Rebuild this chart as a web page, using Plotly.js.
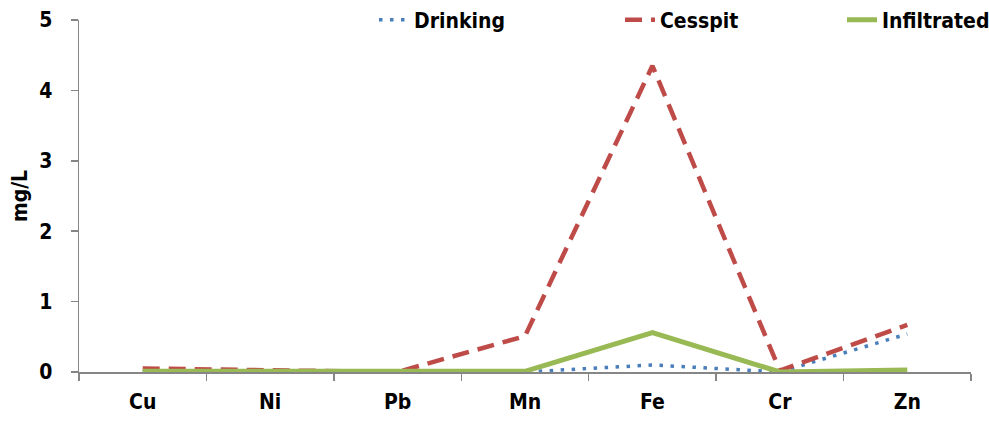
<!DOCTYPE html>
<html>
<head>
<meta charset="utf-8">
<script src="https://cdn.plot.ly/plotly-3.0.1.min.js"></script>
<style>
  html, body { margin: 0; padding: 0; background: #ffffff; }
  #chart { width: 989px; height: 424px; }
</style>
</head>
<body>
<div id="chart"></div>
<script>
// Metal concentrations (mg/L) by water type
const metals = ['Cu', 'Ni', 'Pb', 'Mn', 'Fe', 'Cr', 'Zn'];
const drinking = [0.0, 0.0, 0.0, 0.0, 0.1, 0.0, 0.54];
const cesspit = [0.05, 0.03, 0.0, 0.51, 4.35, 0.02, 0.67];
const infiltrated = [0.01, 0.01, 0.0, 0.01, 0.56, 0.0, 0.03];
const yTicks = [0, 1, 2, 3, 4, 5];

const font = "'DejaVu Sans Condensed', 'DejaVu Sans', sans-serif";
const textFont = { family: font, size: 21, color: '#000000', weight: 'bold' };

const traces = [
  {
    x: metals, y: drinking, name: 'Drinking', type: 'scatter', mode: 'lines',
    legend: 'legend',
    line: { color: '#4A7EBB', width: 3.5, dash: '3.5px,7.5px' }
  },
  {
    x: metals, y: cesspit, name: 'Cesspit', type: 'scatter', mode: 'lines',
    legend: 'legend2',
    line: { color: '#BE4B48', width: 4.5, dash: '17px,9px' }
  },
  {
    x: metals, y: infiltrated, name: 'Infiltrated', type: 'scatter', mode: 'lines',
    legend: 'legend3',
    line: { color: '#98B954', width: 5 }
  }
];

// one legend box per series, spread across the top edge
function legendAt(px) {
  return {
    xref: 'container', yref: 'container',
    x: px / 989, xanchor: 'left',
    y: 1 - 20 / 424, yanchor: 'middle',
    font: textFont, bgcolor: 'rgba(0,0,0,0)', borderwidth: 0
  };
}

const layout = {
  width: 989, height: 424,
  margin: { l: 79, r: 18, t: 20, b: 52, autoexpand: false },
  paper_bgcolor: '#ffffff', plot_bgcolor: '#ffffff',
  font: textFont,
  showlegend: true,
  legend: legendAt(374),
  legend2: legendAt(620),
  legend3: legendAt(842),
  xaxis: {
    type: 'category', categoryorder: 'array', categoryarray: metals,
    range: [-0.5, 6.5], showgrid: false, zeroline: false,
    showline: true, linecolor: '#868686', linewidth: 1.5,
    ticks: 'outside', tickson: 'boundaries', ticklen: 7, tickcolor: '#868686', tickwidth: 1.5,
    ticklabelstandoff: 10,
    tickfont: textFont
  },
  yaxis: {
    range: [0, 5], tickvals: yTicks, ticktext: yTicks.map(String),
    showgrid: false, zeroline: false,
    showline: true, linecolor: '#868686', linewidth: 1.5,
    ticks: 'outside', ticklen: 7, tickcolor: '#868686', tickwidth: 1.5,
    ticklabelstandoff: 14,
    tickfont: textFont
  },
  annotations: [
    {
      text: 'mg/L', xref: 'paper', yref: 'paper',
      x: -79 / 892, xanchor: 'left', xshift: 6,
      y: 0.5, yanchor: 'middle', textangle: -90,
      showarrow: false, font: textFont
    }
  ]
};

Plotly.newPlot('chart', traces, layout, { displayModeBar: false, staticPlot: true });
</script>
</body>
</html>
